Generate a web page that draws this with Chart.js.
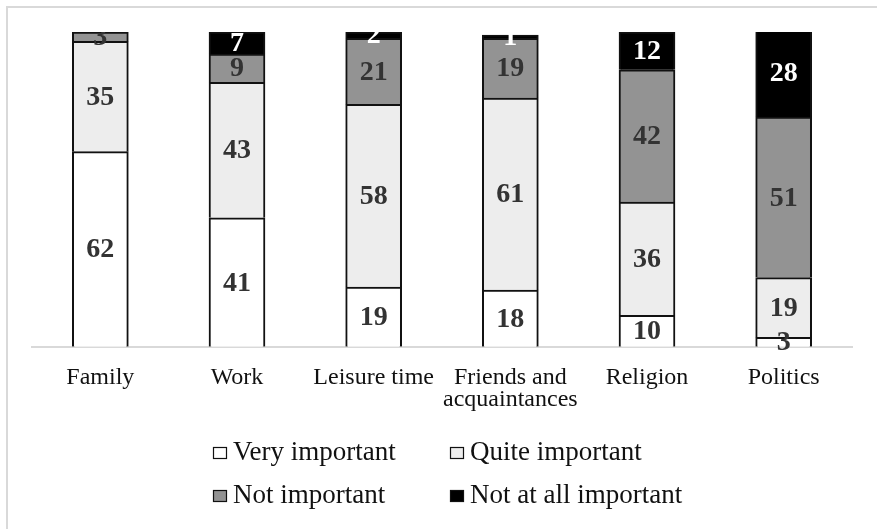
<!DOCTYPE html>
<html>
<head>
<meta charset="utf-8">
<script src="https://cdn.jsdelivr.net/npm/chart.js@4"></script>
<style>
  html, body { margin: 0; padding: 0; background: #fff; }
  #wrap { width: 877px; height: 529px; position: relative; }
</style>
</head>
<body>
<div id="wrap"><canvas id="c" width="877" height="529"></canvas></div>
<script>
// Share of respondents rating each life domain, in percent
const categories = ['Family', 'Work', 'Leisure time', ['Friends and', 'acquaintances'], 'Religion', 'Politics'];
const seriesNames = ['Very important', 'Quite important', 'Not important', 'Not at all important'];
const veryImportant = [62, 41, 19, 18, 10, 3];
const quiteImportant = [35, 43, 58, 61, 36, 19];
const notImportant = [3, 9, 21, 19, 42, 51];
const notAtAllImportant = [0, 7, 2, 1, 12, 28];

const fills = ['#ffffff', '#ededed', '#939393', '#000000'];
const serif = "'Liberation Serif', 'Times New Roman', serif";

const seriesValues = [veryImportant, quiteImportant, notImportant, notAtAllImportant];

const datasets = seriesValues.map((vals, i) => ({
  label: seriesNames[i],
  data: vals,
  backgroundColor: fills[i],
  borderColor: '#111',
  borderWidth: 2,
  barThickness: 56
}));

// white page with a thin grey frame on the top and left edges
const framePlugin = {
  id: 'frame',
  beforeDraw(chart) {
    const ctx = chart.ctx;
    ctx.save();
    ctx.fillStyle = '#fff';
    ctx.fillRect(0, 0, chart.width, chart.height);
    ctx.strokeStyle = '#d9d9d9';
    ctx.lineWidth = 2;
    ctx.beginPath();
    ctx.moveTo(7, chart.height);
    ctx.lineTo(7, 7);
    ctx.lineTo(chart.width, 7);
    ctx.stroke();
    ctx.restore();
  }
};

// value labels centred in every segment
const segmentLabels = {
  id: 'segmentLabels',
  afterDatasetsDraw(chart) {
    const ctx = chart.ctx;
    const area = chart.chartArea;
    ctx.save();
    ctx.beginPath();
    ctx.rect(0, area.top, chart.width, chart.height - area.top);
    ctx.clip();
    ctx.font = 'bold 28px ' + serif;
    ctx.textAlign = 'center';
    ctx.textBaseline = 'middle';
    chart.data.datasets.forEach((ds, di) => {
      const meta = chart.getDatasetMeta(di);
      meta.data.forEach((bar, i) => {
        const v = ds.data[i];
        if (!v) return;
        const p = bar.getProps(['x', 'y', 'base'], true);
        ctx.fillStyle = ds.backgroundColor === '#000000' ? '#fff' : '#333';
        ctx.fillText(String(v), p.x, (p.y + p.base) / 2 + 1);
      });
    });
    ctx.restore();
  }
};

// two-by-two legend under the axis
const gridLegend = {
  id: 'gridLegend',
  afterDraw(chart) {
    const ctx = chart.ctx;
    const cols = [213, 450];
    const rows = [460, 503];
    ctx.save();
    ctx.font = '27px ' + serif;
    ctx.textAlign = 'left';
    ctx.textBaseline = 'alphabetic';
    chart.data.datasets.forEach((ds, i) => {
      const x = cols[i % 2];
      const y = rows[Math.floor(i / 2)];
      ctx.fillStyle = ds.backgroundColor;
      ctx.fillRect(x, y - 13, 14, 12);
      ctx.strokeStyle = '#111';
      ctx.lineWidth = 1.2;
      ctx.strokeRect(x + 0.5, y - 12.5, 13, 11);
      ctx.fillStyle = '#111';
      ctx.fillText(ds.label, x + 20, y);
    });
    ctx.restore();
  }
};

new Chart(document.getElementById('c'), {
  type: 'bar',
  data: { labels: categories, datasets },
  options: {
    responsive: false,
    animation: false,
    layout: { padding: { left: 32, right: 25, top: 32, bottom: 98 } },
    plugins: { legend: { display: false }, tooltip: { enabled: false } },
    scales: {
      x: {
        stacked: true,
        grid: { display: false, drawTicks: false },
        border: { display: true, color: '#d9d9d9', width: 2 },
        ticks: {
          color: '#111',
          padding: 20,
          maxRotation: 0,
          autoSkip: false,
          font: { family: serif, size: 24, lineHeight: 0.92 }
        }
      },
      y: {
        stacked: true,
        display: false,
        min: 0,
        max: 100
      }
    }
  },
  plugins: [framePlugin, segmentLabels, gridLegend]
});
</script>
</body>
</html>
